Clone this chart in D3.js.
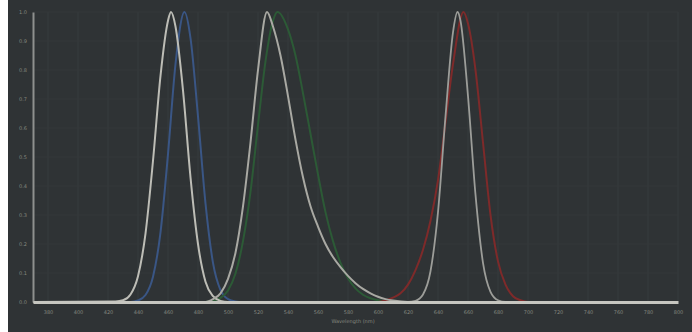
<!DOCTYPE html>
<html>
<head>
<meta charset="utf-8">
<script src="https://cdn.jsdelivr.net/npm/d3@7"></script>
<style>
   html, body { margin: 0; padding: 0; background: #ffffff; }
   svg { display: block; }
</style>
</head>
<body>
<script>

// Tick labels
const xTicks = [380, 400, 420, 440, 460, 480, 500, 520, 540, 560, 580, 600, 620, 640, 660, 680, 700, 720, 740, 760, 780, 800];
const yTicks = [0, 0.1, 0.2, 0.3, 0.4, 0.5, 0.6, 0.7, 0.8, 0.9, 1.0];

// Blue dye: excitation (white) and emission (blue)
const ex1Wl = [370, 425, 430, 435, 440, 445, 450, 455, 460, 462, 465, 470, 475, 480, 485, 490, 495, 500, 800];
const ex1Val = [0, 0.002, 0.006, 0.026, 0.089, 0.236, 0.487, 0.78, 0.97, 1.0, 0.95, 0.73, 0.43, 0.2, 0.07, 0.02, 0.004, 0, 0];
const em1Wl = [370, 435, 440, 445, 450, 455, 460, 465, 471, 475, 480, 485, 490, 495, 500, 505, 510, 800];
const em1Val = [0, 0, 0.005, 0.024, 0.087, 0.24, 0.51, 0.82, 1.0, 0.91, 0.64, 0.34, 0.135, 0.041, 0.01, 0.002, 0, 0];

// Green dye
const ex2Wl = [370, 485, 490, 495, 500, 505, 510, 515, 520, 526, 530, 535, 540, 545, 550, 555, 560, 565, 570, 575, 580, 585, 590, 595, 600, 605, 610, 620, 800];
const ex2Val = [0, 0, 0.01, 0.03, 0.08, 0.17, 0.33, 0.55, 0.80, 1.0, 0.95, 0.85, 0.71, 0.56, 0.43, 0.33, 0.26, 0.20, 0.155, 0.12, 0.09, 0.065, 0.045, 0.03, 0.018, 0.01, 0.005, 0, 0];
const em2Wl = [370, 485, 490, 495, 500, 505, 510, 515, 520, 525, 530, 533, 540, 545, 550, 555, 560, 565, 570, 575, 580, 585, 590, 595, 600, 610, 800];
const em2Val = [0, 0, 0.004, 0.014, 0.04, 0.098, 0.21, 0.38, 0.61, 0.83, 0.97, 1.0, 0.94, 0.85, 0.72, 0.58, 0.44, 0.31, 0.21, 0.135, 0.082, 0.047, 0.025, 0.013, 0.006, 0, 0];

// Red dye
const ex3Wl = [370, 620, 625, 630, 635, 640, 645, 650, 653, 655, 660, 665, 670, 675, 680, 685, 800];
const ex3Val = [0, 0, 0.004, 0.026, 0.106, 0.31, 0.64, 0.93, 1.0, 0.97, 0.71, 0.37, 0.135, 0.035, 0.006, 0, 0];
const em3Wl = [370, 600, 605, 610, 615, 620, 625, 630, 635, 640, 645, 650, 657, 660, 665, 670, 675, 680, 685, 690, 695, 700, 800];
const em3Val = [0, 0, 0.005, 0.015, 0.03, 0.06, 0.11, 0.18, 0.28, 0.42, 0.62, 0.82, 1.0, 0.96, 0.80, 0.55, 0.30, 0.14, 0.06, 0.02, 0.006, 0, 0];

const width = 692, height = 332;

let svg = d3.select("body")
   .append("svg")
   .attr("width", width)
   .attr("height", height);

// dark panel with a thin white strip on the left
svg.append("rect")
   .attr("x", 8).attr("y", 0)
   .attr("width", width - 8).attr("height", height)
   .attr("fill", "#2f3335");

let x = d3.scaleLinear().domain([370, 800]).range([33, 678]);
let y = d3.scaleLinear().domain([0, 1]).range([302, 12]);

// faint grid
svg.append("g")
   .selectAll("line")
   .data(xTicks)
   .enter()
   .append("line")
      .attr("x1", d => x(d)).attr("x2", d => x(d))
      .attr("y1", y(1)).attr("y2", y(0))
      .attr("stroke", "#373c3e")
      .attr("stroke-width", 1);
svg.append("g")
   .selectAll("line")
   .data(yTicks.slice(1))
   .enter()
   .append("line")
      .attr("x1", x(370)).attr("x2", x(800))
      .attr("y1", d => y(d)).attr("y2", d => y(d))
      .attr("stroke", "#34383a")
      .attr("stroke-width", 1);

// Axes
let xAxis = svg.append("g")
   .attr("transform", "translate(0," + y(0) + ")")
   .call(d3.axisBottom(x).tickValues(xTicks).tickSize(0).tickPadding(8));
let yAxis = svg.append("g")
   .attr("transform", "translate(" + x(370) + ",0)")
   .call(d3.axisLeft(y).tickValues(yTicks).tickFormat(d3.format(".1f")).tickSize(0).tickPadding(6));

yAxis.select(".domain").attr("stroke", "#8e908e").attr("stroke-width", 2);
[xAxis, yAxis].forEach(function(a) {
   a.selectAll("text")
      .attr("fill", "#85877f")
      .style("font-family", "'DejaVu Sans', sans-serif")
      .style("font-size", "5px");
});

svg.append("text")
   .attr("x", 353).attr("y", 323)
   .attr("text-anchor", "middle")
   .attr("fill", "#85877f")
   .style("font-family", "'DejaVu Sans', sans-serif")
   .style("font-size", "5px")
   .text("Wavelength (nm)");

// Spectra
let line = d3.line()
   .x(d => x(d[0]))
   .y(d => y(d[1]))
   .curve(d3.curveMonotoneX);

function drawSpectrum(wl, val, colour, w) {
   svg.append("path")
      .datum(d3.zip(wl, val))
      .attr("d", line)
      .attr("fill", "none")
      .attr("stroke", colour)
      .attr("stroke-width", w);
}

drawSpectrum(em1Wl, em1Val, "#3a5685", 2);
drawSpectrum(em2Wl, em2Val, "#2c5a36", 2);
drawSpectrum(em3Wl, em3Val, "#7e2a2a", 2);
drawSpectrum(ex1Wl, ex1Val, "#bdbdb6", 2);
drawSpectrum(ex2Wl, ex2Val, "#a9a9a3", 2);
drawSpectrum(ex3Wl, ex3Val, "#9c9d99", 1.8);

// bright baseline on top, where all the curves rest at zero
xAxis.raise();
xAxis.select(".domain").attr("stroke", "#c6c6c0").attr("stroke-width", 3);

</script>
</body>
</html>
